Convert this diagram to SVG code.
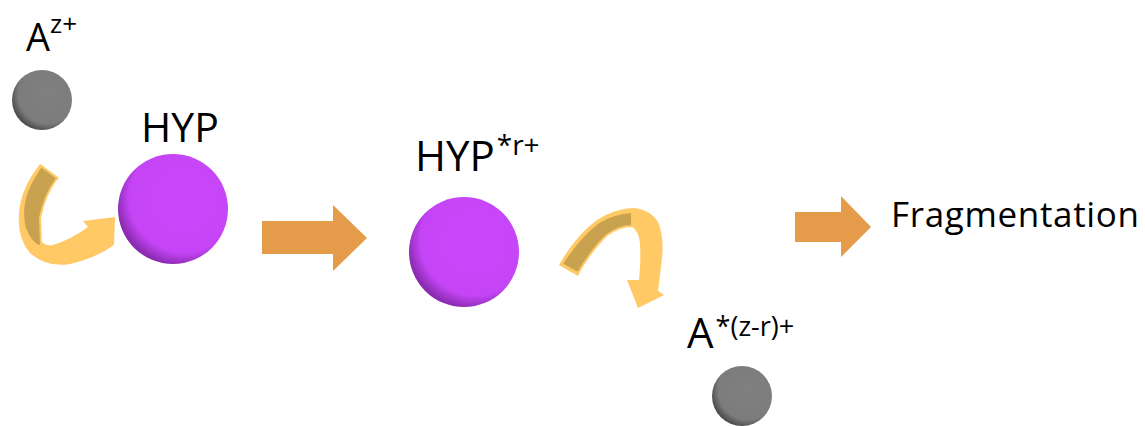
<svg xmlns="http://www.w3.org/2000/svg" width="1145" height="426" viewBox="0 0 1145 426">
<defs>
<radialGradient id="gGray" cx="0.6" cy="0.4" r="0.62" fx="0.6" fy="0.4">
<stop offset="0" stop-color="#808080"/><stop offset="0.8" stop-color="#7c7c7c"/><stop offset="1" stop-color="#4e4e4e"/>
</radialGradient>
<radialGradient id="gPurple" cx="0.6" cy="0.4" r="0.62" fx="0.6" fy="0.4">
<stop offset="0" stop-color="#c947fb"/><stop offset="0.8" stop-color="#c545f6"/><stop offset="1" stop-color="#8a2bb0"/>
</radialGradient>
<style>
.t{font-family:"Open Sans","Liberation Sans",sans-serif;fill:#000}
.block{fill:#e49b4a}
.curve{fill:#ffc966}
.face{fill:#c9a250;stroke:#ffc966;stroke-width:2}
</style>
</defs>
<g id="ion1">
<circle cx="42" cy="100" r="30" fill="url(#gGray)"/>
<text class="t" x="26" y="51" font-size="38">A<tspan font-size="26" dy="-18">z+</tspan></text>
</g>
<g id="hyp1">
<circle cx="173" cy="209" r="55" fill="url(#gPurple)"/>
<text class="t" x="141" y="142" font-size="41">HYP</text>
</g>
<g id="hyp2">
<circle cx="464" cy="252" r="55" fill="url(#gPurple)"/>
<text class="t" x="415" y="171" font-size="42">HYP<tspan font-size="28" dx="2" dy="-16">*r+</tspan></text>
</g>
<g id="ion2">
<circle cx="742" cy="396" r="30" fill="url(#gGray)"/>
<text class="t" x="687" y="348" font-size="42">A<tspan font-size="27" dx="2" dy="-12">*(z-r)+</tspan></text>
</g>
<g id="fragmentation">
<text class="t" x="891" y="227" font-size="35" textLength="248">Fragmentation</text>
</g>
<g id="connectors">
<path class="curve" d="M40,164 Q24,184 20,205 Q15,236 30,253 Q47,268 70,264 Q96,258 114,245 L115,217 L83,221 L88,227 Q70,240 53,245 Q42,247 39,236 Q37,212 44,196 Q51,185 59,178 Z"/>
<path class="face" d="M41,166 L57,178 Q44,196 40,218 L41,247 Q30,243 25,228 Q19,205 32,181 Z"/>
<path class="curve" d="M559,265 Q576,235 597,220 Q616,208 634,208 Q652,210 659,224 Q664,240 662,258 L658,291 L664,295 L638,308 L627,280 L639,280 Q641,262 640,243 Q639,231 631,226 Q615,223 604,232 Q589,246 578,276 Z"/>
<path class="face" d="M562,264 Q579,237 599,222 Q614,213 632,212 L632,226 Q619,226 607,235 Q592,249 578,273 Z"/>
<polygon class="block" points="262,221 333,221 333,205 367,238 333,271 333,254 262,254"/>
<polygon class="block" points="795,212 841,212 841,196 871,227 841,257 841,242 795,242"/>
</g>
</svg>
